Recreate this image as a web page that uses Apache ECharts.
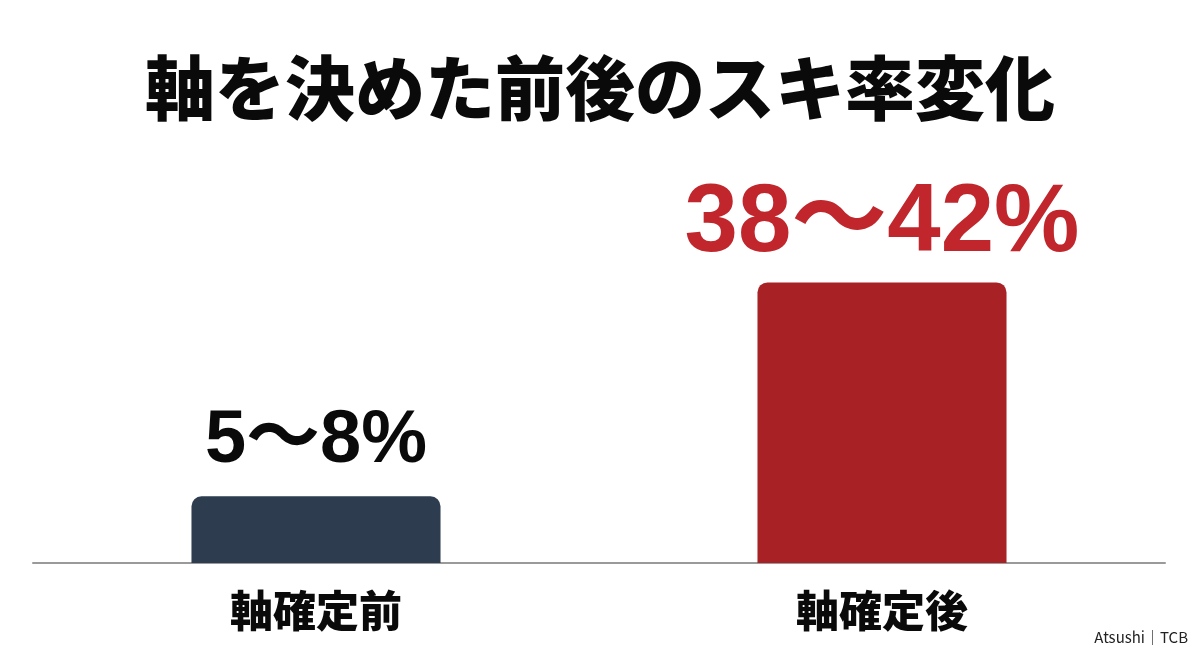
<!DOCTYPE html>
<html>
<head>
<meta charset="utf-8">
<style>
html,body{margin:0;padding:0;background:#fff;}
#c{width:1200px;height:655px;}
</style>
<script src="https://cdn.jsdelivr.net/npm/echarts@6/dist/echarts.min.js"></script>
</head>
<body>
<div id="c"></div>
<script>
var titleText = '軸を決めた前後のスキ率変化';
var categories = ['軸確定前', '軸確定後'];
var values = [9.5, 40];
var valueLabels = ['5〜8%', '38〜42%'];
var barColors = ['#2d3d4f', '#a82125'];
var labelColors = ['#0a0a0a', '#c0262b'];
var labelSizes = [74, 96];
var credit = 'Atsushi｜TCB';

var font = '"Noto Sans CJK JP", "Noto Sans", sans-serif';
var numFont = '"Liberation Sans", "Noto Sans CJK JP", sans-serif';
var chart = echarts.init(document.getElementById('c'));
chart.setOption({
  backgroundColor: '#ffffff',
  animation: false,
  title: {
    text: titleText,
    left: 'center',
    top: 48,
    textStyle: { fontFamily: font, fontSize: 70, fontWeight: 900, color: '#0a0a0a' }
  },
  graphic: [{
    type: 'text',
    right: 12,
    bottom: 10,
    style: { text: credit, fontFamily: font, fontSize: 15, fill: '#222', fontWeight: 400 }
  }],
  grid: { left: 33, right: 35, top: 100, bottom: 92 },
  xAxis: {
    type: 'category',
    data: categories,
    axisLine: { lineStyle: { color: '#9a9a9a', width: 2 } },
    axisTick: { show: false },
    axisLabel: { fontFamily: font, fontSize: 43, fontWeight: 900, color: '#0a0a0a', margin: 26 }
  },
  yAxis: {
    type: 'value',
    min: 0,
    max: 66,
    show: false,
    splitLine: { show: false }
  },
  series: [{
    type: 'bar',
    barWidth: '44%',
    data: values.map(function (v, i) {
      return {
        value: v,
        itemStyle: { color: barColors[i], borderRadius: [10, 10, 0, 0] },
        label: {
          show: true,
          position: 'top',
          distance: i === 0 ? 18 : 10,
          formatter: valueLabels[i],
          fontFamily: numFont,
          fontWeight: 'bold',
          fontSize: labelSizes[i],
          color: labelColors[i]
        }
      };
    })
  }]
});
</script>
</body>
</html>
